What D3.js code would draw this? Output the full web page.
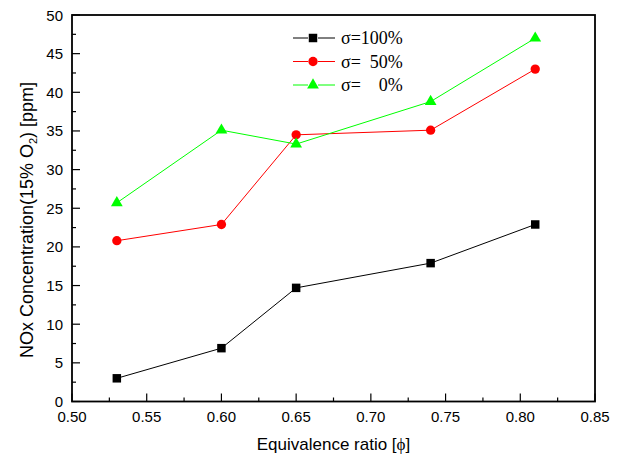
<!DOCTYPE html>
<html>
<head>
<meta charset="utf-8">
<script src="https://d3js.org/d3.v7.min.js"></script>
<style>
  body { margin: 0; background: #fff; }
</style>
</head>
<body>
<div id="chart"></div>
<script>
// data
var phi = [0.53, 0.60, 0.65, 0.74, 0.81];
var sigma100 = [3.0, 6.9, 14.7, 17.9, 22.9];
var sigma50 = [20.8, 22.9, 34.5, 35.1, 43.0];
var sigma0 = [25.7, 35.1, 33.3, 38.8, 47.0];
var seriesNames = ["\u03c3=100%", "\u03c3=  50%", "\u03c3=    0%"];
var xTicks = [0.50, 0.55, 0.60, 0.65, 0.70, 0.75, 0.80, 0.85];
var yTicks = [0, 5, 10, 15, 20, 25, 30, 35, 40, 45, 50];

var w = 623, h = 460;
var pLeft = 72, pRight = 595, pTop = 15, pBottom = 401.5;
var sans = "'Liberation Sans', Arial, sans-serif";
var serif = "'Liberation Serif', 'Times New Roman', serif";

var svg = d3.select("#chart").append("svg")
  .attr("width", w).attr("height", h)
  .style("font-family", sans);

var x = d3.scaleLinear().domain([0.50, 0.85]).range([pLeft, pRight]);
var y = d3.scaleLinear().domain([0, 50]).range([pBottom, pTop]);

var series = [
  {name: seriesNames[0], values: sigma100, color: "#000000", shape: d3.symbolSquare, size: 72},
  {name: seriesNames[1], values: sigma50, color: "#ff0000", shape: d3.symbolCircle, size: 68},
  {name: seriesNames[2], values: sigma0, color: "#00ff00", shape: d3.symbolTriangle, size: 60}
];

// minor ticks
var xMinor = d3.range(0.525, 0.85, 0.05);
var yMinor = d3.range(2.5, 50, 5);

svg.selectAll(".xminor").data(xMinor).enter().append("line")
  .attr("x1", function(d) { return x(d); }).attr("x2", function(d) { return x(d); })
  .attr("y1", pBottom).attr("y2", pBottom - 4)
  .attr("stroke", "#000").attr("stroke-width", 1.2);
svg.selectAll(".yminor").data(yMinor).enter().append("line")
  .attr("y1", function(d) { return y(d); }).attr("y2", function(d) { return y(d); })
  .attr("x1", pLeft).attr("x2", pLeft + 4)
  .attr("stroke", "#000").attr("stroke-width", 1.2);

// major ticks
svg.selectAll(".xmajor").data(xTicks).enter().append("line")
  .attr("x1", function(d) { return x(d); }).attr("x2", function(d) { return x(d); })
  .attr("y1", pBottom).attr("y2", pBottom - 8)
  .attr("stroke", "#000").attr("stroke-width", 1.2);
svg.selectAll(".ymajor").data(yTicks).enter().append("line")
  .attr("y1", function(d) { return y(d); }).attr("y2", function(d) { return y(d); })
  .attr("x1", pLeft).attr("x2", pLeft + 8)
  .attr("stroke", "#000").attr("stroke-width", 1.2);

// tick labels
svg.selectAll(".xlab").data(xTicks).enter().append("text")
  .attr("x", function(d) { return x(d); })
  .attr("y", pBottom + 20.5)
  .attr("text-anchor", "middle")
  .attr("font-size", "15px")
  .attr("fill", "#000")
  .text(function(d) { return d3.format(".2f")(d); });
svg.selectAll(".ylab").data(yTicks).enter().append("text")
  .attr("x", pLeft - 9)
  .attr("y", function(d) { return y(d) + 5.5; })
  .attr("text-anchor", "end")
  .attr("font-size", "15px")
  .attr("fill", "#000")
  .text(function(d) { return d; });

// frame
svg.append("rect")
  .attr("x", pLeft).attr("y", pTop)
  .attr("width", pRight - pLeft).attr("height", pBottom - pTop)
  .attr("fill", "none").attr("stroke", "#000").attr("stroke-width", 1.8);

// lines and markers
var line = d3.line()
  .x(function(d, i) { return x(phi[i]); })
  .y(function(d) { return y(d); });

series.forEach(function(s) {
  svg.append("path")
    .datum(s.values)
    .attr("d", line)
    .attr("fill", "none")
    .attr("stroke", s.color)
    .attr("stroke-width", 1);
  svg.selectAll(null).data(s.values).enter().append("path")
    .attr("d", d3.symbol().type(s.shape).size(s.size))
    .attr("transform", function(d, i) { return "translate(" + x(phi[i]) + "," + y(d) + ")"; })
    .attr("fill", s.color);
});

// legend
var legend = svg.append("g");
series.forEach(function(s, i) {
  var ly = 38 + i * 23.5;
  legend.append("line").attr("x1", 293).attr("x2", 308).attr("y1", ly).attr("y2", ly)
    .attr("stroke", s.color).attr("stroke-width", 1);
  legend.append("line").attr("x1", 318).attr("x2", 335).attr("y1", ly).attr("y2", ly)
    .attr("stroke", s.color).attr("stroke-width", 1);
  legend.append("path")
    .attr("d", d3.symbol().type(s.shape).size(s.size))
    .attr("transform", "translate(313," + ly + ")")
    .attr("fill", s.color);
  legend.append("text")
    .attr("x", 341).attr("y", ly + 6)
    .style("font-family", serif)
    .attr("font-size", "18px")
    .attr("fill", "#000")
    .style("white-space", "pre")
    .text(s.name);
});

// axis titles
var xt = svg.append("text")
  .attr("x", (pLeft + pRight) / 2).attr("y", 450)
  .attr("text-anchor", "middle")
  .attr("font-size", "17px")
  .attr("fill", "#000");
xt.append("tspan").text("Equivalence ratio [");
xt.append("tspan").style("font-family", serif).text("\u03d5");
xt.append("tspan").text("]");

var yt = svg.append("text")
  .attr("transform", "translate(33,220) rotate(-90)")
  .attr("text-anchor", "middle")
  .attr("font-size", "18px")
  .attr("fill", "#000");
yt.append("tspan").text("NOx Concentration(15% O");
yt.append("tspan").attr("font-size", "11px").attr("dy", 4).text("2");
yt.append("tspan").attr("dy", -4).text(") [ppm]");
</script>
</body>
</html>
